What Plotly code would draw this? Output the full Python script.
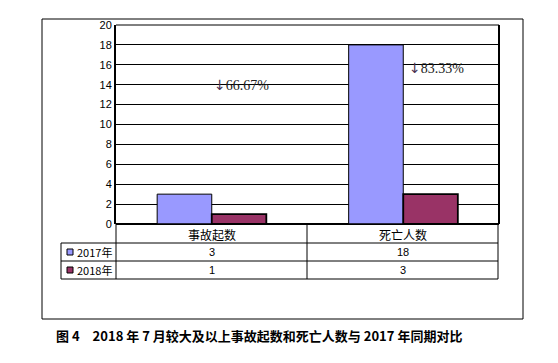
import plotly.graph_objects as go

categories = ["事故起数", "死亡人数"]
series_names = ["2017年", "2018年"]
values_2017 = [3, 18]
values_2018 = [1, 3]
change_labels = ["66.67%", "83.33%"]
y_ticks = [0, 2, 4, 6, 8, 10, 12, 14, 16, 18, 20]
caption = "图 4　2018 年 7 月较大及以上事故起数和死亡人数与 2017 年同期对比"

colors = ["#9999FF", "#993366"]

W, H = 558, 363
PL, PR, PT, PB = 116, 499, 25, 224  # plot area in pixels


def px(x):
    return (x - PL) / (PR - PL)


def py(y):
    return (PB - y) / (PB - PT)


fig = go.Figure()
fig.add_trace(go.Bar(x=categories, y=values_2017, name=series_names[0],
                     marker=dict(color=colors[0], line=dict(color="black", width=1))))
fig.add_trace(go.Bar(x=categories, y=values_2018, name=series_names[1],
                     marker=dict(color=colors[1], line=dict(color="black", width=1.8))))

shapes = []
line = dict(color="black", width=1)
# outer frame
shapes.append(dict(type="rect", xref="paper", yref="paper", x0=px(42), x1=px(523),
                   y0=py(319), y1=py(19), line=line, layer="below"))
# plot area right border
shapes.append(dict(type="line", xref="paper", yref="paper", x0=1, x1=1, y0=0, y1=1,
                   line=dict(color="black", width=2)))
shapes.append(dict(type="line", xref="paper", yref="paper", x0=0, x1=1, y0=1, y1=1,
                   line=line))
# table horizontal lines
for yy, xs in [(224, 116), (243, 61), (261, 61), (279, 61)]:
    shapes.append(dict(type="line", xref="paper", yref="paper", x0=px(xs), x1=px(498),
                       y0=py(yy), y1=py(yy), line=line))
# table vertical lines
for xx, ys in [(61, 243), (116, 224), (307, 224), (498, 224)]:
    shapes.append(dict(type="line", xref="paper", yref="paper", x0=px(xx), x1=px(xx),
                       y0=py(ys), y1=py(279), line=line))
# legend keys
for i, yy in enumerate([252, 270]):
    shapes.append(dict(type="rect", xref="paper", yref="paper", x0=px(67), x1=px(73),
                       y0=py(yy + 3), y1=py(yy - 3), fillcolor=colors[i],
                       line=dict(color="black", width=1)))

annotations = []
cjk = "Noto Sans CJK SC"
# category header row
for c in categories:
    annotations.append(dict(x=c, xref="x", y=py(234), yref="paper", text=c, showarrow=False,
                            xanchor="center", yanchor="middle",
                            font=dict(family=cjk, size=12, color="black")))
# value rows
for row, (vals, yy) in enumerate([(values_2017, 252), (values_2018, 270)]):
    for c, v in zip(categories, vals):
        annotations.append(dict(x=c, xref="x", y=py(yy), yref="paper", text=str(v),
                                showarrow=False, xanchor="center", yanchor="middle",
                                font=dict(family="Liberation Sans", size=11, color="black")))
    annotations.append(dict(x=px(75), xref="paper", y=py(yy), yref="paper",
                            text=series_names[row], showarrow=False, xanchor="left",
                            yanchor="middle",
                            font=dict(family=cjk, size=11, color="black")))
# change labels
label_pos = [(0.0, 14.0), (1.02, 15.7)]
for lbl, (xv, yv) in zip(change_labels, label_pos):
    annotations.append(dict(x=xv, xref="x", y=yv, yref="y",
                            text="<span style='font-family:DejaVu Sans;color:#4a3050'>↓</span>" + lbl,
                            showarrow=False, xanchor="left", yanchor="middle",
                            font=dict(family="Liberation Serif", size=14, color="#222")))
# caption
annotations.append(dict(x=px(259), xref="paper", y=py(335), yref="paper",
                        text="<b>" + caption + "</b>", showarrow=False,
                        xanchor="center", yanchor="middle",
                        font=dict(family=cjk, size=13, color="black")))

fig.update_layout(
    width=W, height=H, autosize=False,
    margin=dict(l=PL, r=W - PR, t=PT, b=H - PB, pad=0),
    paper_bgcolor="white", plot_bgcolor="white",
    barmode="group", bargap=0.43, bargroupgap=0,
    showlegend=False,
    shapes=shapes, annotations=annotations,
    xaxis=dict(showticklabels=False, showgrid=False, zeroline=False, showline=False,
               ticks="", range=[-0.5, 1.5]),
    yaxis=dict(range=[0, 20], tickvals=y_ticks, showgrid=True, gridcolor="black", gridwidth=1,
               showline=True, linecolor="black", linewidth=2, zeroline=True,
               zerolinecolor="black", ticks="", ticklen=0,
               tickfont=dict(family="Liberation Sans", size=11, color="black")),
)

fig.write_html("out.html", config={"displayModeBar": False},
               post_script="document.body.style.margin='0';document.body.style.overflow='hidden';")
